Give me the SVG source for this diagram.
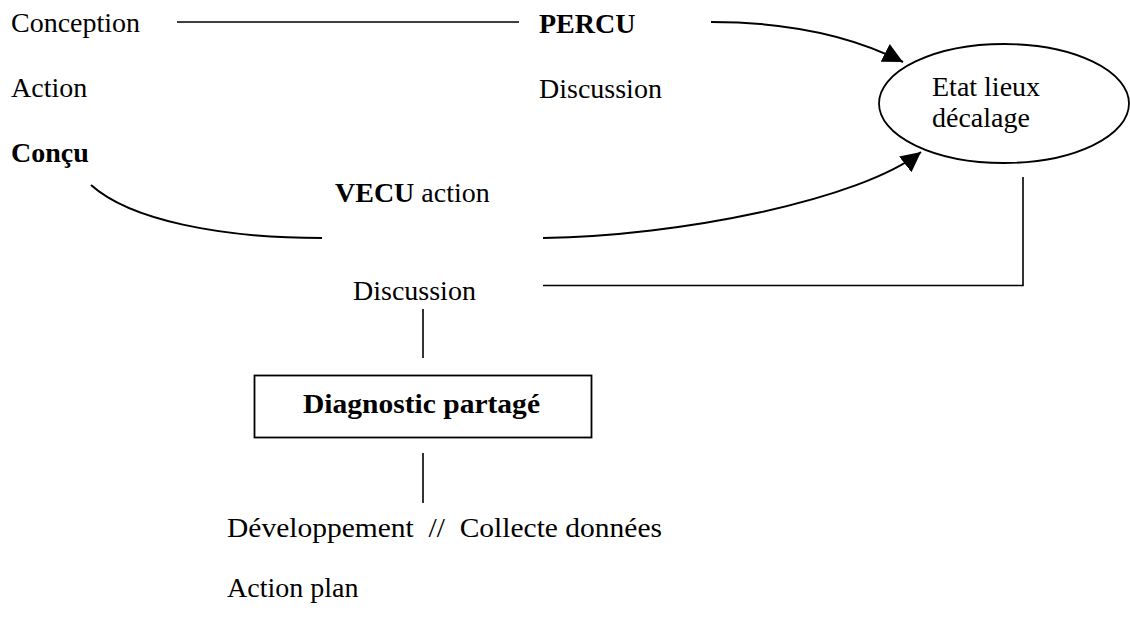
<svg xmlns="http://www.w3.org/2000/svg" width="1130" height="621" viewBox="0 0 1130 621">
<style>
  text { font-family: "Liberation Serif", "Times New Roman", serif; font-size: 28px; fill: #000; white-space: pre; }
  .b { font-weight: bold; }
  .ln { stroke: #000; stroke-width: 1.6; fill: none; }
  .cv { stroke: #000; stroke-width: 2; fill: none; }
  .shape { stroke: #000; stroke-width: 1.8; fill: #fff; }
</style>
<defs>
  <marker id="arrow" viewBox="0 0 20 20" refX="20" refY="10" markerUnits="userSpaceOnUse" markerWidth="20" markerHeight="20" orient="auto">
    <path d="M0,0 L20,10 L0,20 z" fill="#000"/>
  </marker>
</defs>
<rect width="1130" height="621" fill="#fff"/>

<g id="connectors">
  <line class="ln" x1="177" y1="22" x2="519" y2="22"/>
  <path class="cv" d="M711,22 C800,22 860,40 903,62" marker-end="url(#arrow)"/>
  <path class="cv" d="M91,185 C130,220 220,238 322,238"/>
  <path class="cv" d="M543,238 C680,236 860,200 921,152" marker-end="url(#arrow)"/>
  <polyline class="ln" points="543,285.5 1023,285.5 1023,177"/>
  <line class="ln" x1="423" y1="309" x2="423" y2="358"/>
  <line class="ln" x1="423" y1="453" x2="423" y2="503"/>
</g>

<g id="conception"><text x="11" y="32">Conception</text></g>
<g id="action"><text x="11" y="97">Action</text></g>
<g id="concu"><text class="b" x="11" y="162">Conçu</text></g>
<g id="percu"><text class="b" x="539" y="33">PERCU</text></g>
<g id="discussion-top"><text x="539" y="98">Discussion</text></g>
<g id="vecu"><text x="335" y="202"><tspan class="b">VECU</tspan> action</text></g>
<g id="discussion-mid"><text x="353" y="300">Discussion</text></g>

<g id="etat-lieux">
  <ellipse class="shape" cx="1004" cy="103.5" rx="125" ry="59.5"/>
  <text x="932" y="96">Etat lieux</text>
  <text x="932" y="127">décalage</text>
</g>

<g id="diagnostic">
  <rect class="shape" x="254.5" y="375.5" width="337" height="62"/>
  <text class="b" x="303" y="413" textLength="237" lengthAdjust="spacingAndGlyphs">Diagnostic partagé</text>
</g>

<g id="developpement"><text x="227" y="537" textLength="435" lengthAdjust="spacingAndGlyphs">Développement  //  Collecte données</text></g>
<g id="action-plan"><text x="227" y="597">Action plan</text></g>
</svg>
